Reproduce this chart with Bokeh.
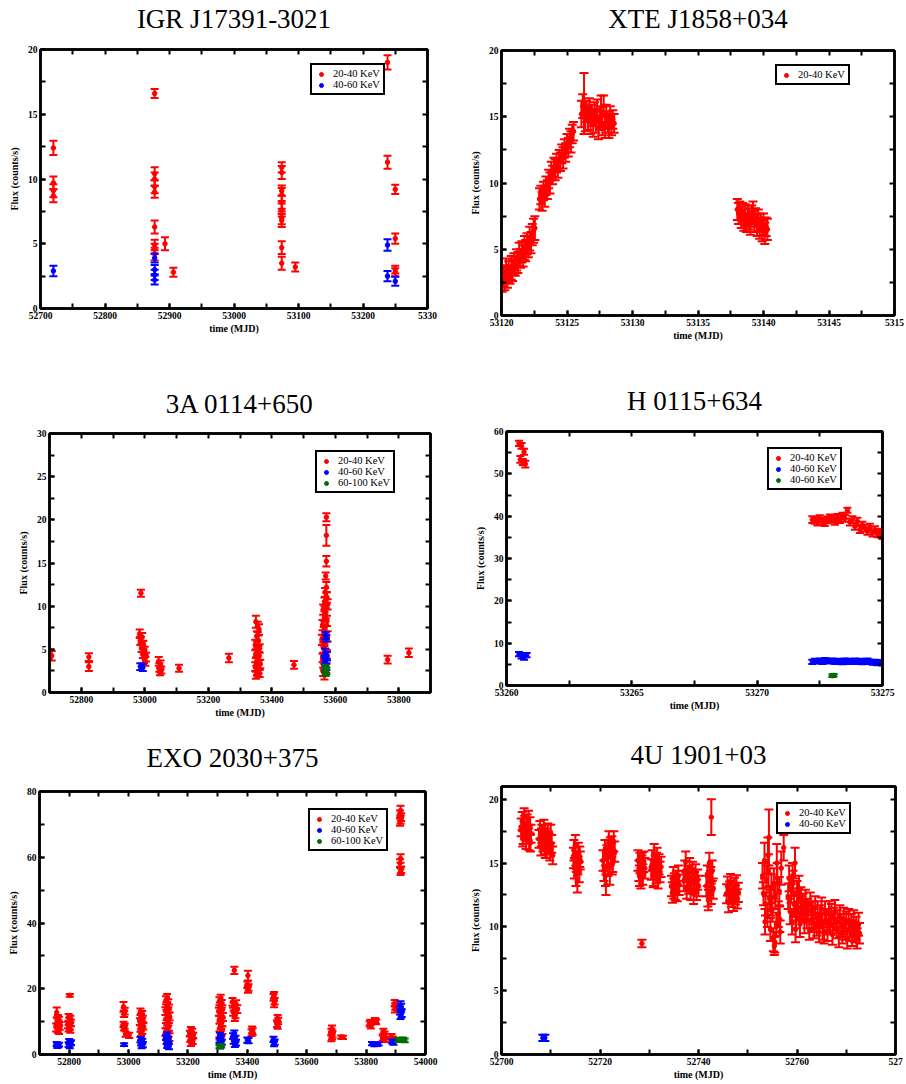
from bokeh.plotting import figure
from bokeh.models import (ColumnDataSource, LinearAxis, SingleIntervalTicker, FixedTicker,
                          Legend, LegendItem, Range1d, Spacer)
from bokeh.layouts import column, row
from bokeh.embed import file_html
from bokeh.resources import INLINE

RED = "#ff0000"
BLUE = "#0000ff"
GREEN = "#006e00"
SERIF = "Liberation Serif"

# ---------------- IGR J17391-3021 ----------------
igr_r_x = [52720, 52720, 52720, 52720,
           52877, 52877, 52877, 52877, 52877, 52877, 52877, 52877, 52877,
           52893, 52906,
           53074, 53074, 53074, 53074, 53074, 53074, 53074, 53074, 53074, 53074,
           53095, 53238, 53238, 53250, 53250, 53250, 53250]
igr_r_y = [12.4, 9.7, 9.1, 8.7,
           16.6, 10.4, 10.0, 9.4, 9.0, 6.3, 4.9, 4.6, 4.2,
           5.0, 2.8,
           10.9, 10.5, 9.1, 8.8, 8.2, 7.6, 7.0, 6.8, 4.7, 3.5,
           3.2, 19.0, 11.3, 9.2, 5.4, 3.0, 2.8]
igr_r_e = [0.55, 0.5, 0.5, 0.5,
           0.35, 0.5, 0.5, 0.5, 0.45, 0.5, 0.4, 0.4, 0.5,
           0.5, 0.35,
           0.4, 0.5, 0.4, 0.5, 0.5, 0.5, 0.5, 0.5, 0.5, 0.5,
           0.35, 0.55, 0.5, 0.35, 0.4, 0.3, 0.3]
igr_b_x = [52720, 52877, 52877, 52877, 52877, 53238, 53238, 53250]
igr_b_y = [2.9, 3.9, 3.0, 2.6, 2.2, 4.9, 2.5, 2.1]
igr_b_e = [0.4, 0.35, 0.35, 0.4, 0.35, 0.45, 0.4, 0.35]

# ---------------- XTE J1858+034 ----------------
xte_x = [53120.05, 53120.15, 53120.25, 53120.35, 53120.45, 53120.55, 53120.65, 53120.75, 53120.85, 53120.95,
         53121.05, 53121.15, 53121.25, 53121.35, 53121.45, 53121.55, 53121.65, 53121.75, 53121.85, 53121.95,
         53122.05, 53122.15, 53122.25, 53122.35, 53122.45, 53122.55,
         53122.9, 53123.0, 53123.1, 53123.2, 53123.3, 53123.4, 53123.5, 53123.6, 53123.7, 53123.8,
         53123.9, 53124.0, 53124.1, 53124.2, 53124.3, 53124.4, 53124.5, 53124.6, 53124.7, 53124.8,
         53124.9, 53125.0, 53125.1, 53125.2, 53125.3, 53125.4, 53125.5,
         53126.1, 53126.2, 53126.3, 53126.4, 53126.5, 53126.6, 53126.7, 53126.8, 53126.9, 53127.0,
         53127.1, 53127.2, 53127.3, 53127.4, 53127.5, 53127.6, 53127.7, 53127.8, 53127.9, 53128.0,
         53128.1, 53128.2, 53128.3, 53128.4, 53128.5, 53128.6,
         53138.0, 53138.1, 53138.2, 53138.3, 53138.4, 53138.5, 53138.6, 53138.7, 53138.8, 53138.9,
         53139.0, 53139.1, 53139.2, 53139.3, 53139.4, 53139.5, 53139.6, 53139.7, 53139.8, 53139.9,
         53140.0, 53140.1, 53140.2, 53140.3]
xte_y = [2.7, 3.0, 2.6, 3.4, 2.9, 3.3, 3.1, 3.6, 3.4, 3.9,
         3.7, 4.2, 4.0, 4.6, 4.3, 4.8, 4.5, 5.1, 4.9, 5.4,
         5.2, 5.8, 5.5, 6.1, 6.4, 6.6,
         8.8, 9.1, 8.6, 9.4, 9.0, 9.8, 9.5, 10.3, 10.0, 10.9,
         10.6, 11.2, 11.0, 11.5, 11.1, 11.8, 11.6, 12.2, 11.9, 12.6,
         12.3, 13.0, 12.7, 13.4, 13.1, 13.7, 13.9,
         15.2, 15.8, 16.0, 14.8, 15.4, 14.9, 15.6, 14.6, 15.1, 14.4,
         15.3, 14.7, 15.5, 14.2, 14.9, 15.4, 14.5, 15.8, 14.3, 15.0,
         14.6, 14.2, 15.1, 14.4, 14.8, 14.5,
         8.0, 7.7, 7.9, 7.4, 7.8, 7.2, 7.6, 7.0, 7.5, 7.3,
         6.9, 7.6, 7.8, 7.1, 7.4, 6.8, 7.2, 6.6, 7.0, 6.4,
         6.9, 6.2, 6.7, 6.5]
xte_e = [0.9, 0.8, 0.7, 0.9, 0.8, 0.8, 0.7, 0.9, 0.8, 0.8,
         0.7, 0.8, 0.8, 0.9, 0.7, 0.8, 0.8, 0.9, 0.8, 0.8,
         0.8, 0.9, 0.8, 0.8, 0.9, 0.9,
         0.8, 0.7, 0.7, 0.7, 0.8, 0.7, 0.7, 0.7, 0.8, 0.7,
         0.7, 0.7, 0.8, 0.7, 0.7, 0.7, 0.7, 0.7, 0.8, 0.7,
         0.7, 0.7, 0.7, 0.7, 0.8, 0.7, 0.7,
         1.0, 0.9, 2.3, 0.9, 0.8, 0.9, 0.8, 0.9, 0.8, 0.9,
         0.8, 0.9, 0.8, 0.9, 0.9, 1.2, 0.9, 0.8, 0.9, 0.9,
         0.8, 0.8, 0.7, 0.8, 0.7, 0.7,
         0.8, 0.8, 0.7, 0.8, 0.7, 0.8, 0.8, 0.7, 0.8, 0.8,
         0.8, 0.7, 0.8, 0.8, 0.7, 0.8, 0.8, 0.8, 0.7, 0.8,
         0.8, 0.8, 0.7, 0.8]

# ---------------- 3A 0114+650 ----------------
a3_r_x = [52707, 52824, 52824,
          52988, 52984, 52992, 52986, 52996, 52990, 53000, 52994, 53004, 52998, 53002,
          53044, 53050, 53046, 53052, 53048,
          53108, 53265,
          53350, 53356, 53360, 53353, 53358, 53348, 53362, 53354, 53350, 53360,
          53356, 53352, 53364, 53348, 53358, 53354, 53362, 53350,
          53470,
          53572, 53572, 53572, 53570, 53572, 53568, 53574, 53566, 53576, 53562,
          53570, 53566, 53574, 53560, 53568, 53564, 53576, 53558, 53570, 53562,
          53566, 53574, 53560, 53568, 53564, 53572, 53562, 53566,
          53765, 53832]
a3_r_y = [4.25, 4.1, 3.0,
          11.5, 6.8, 6.4, 6.0, 5.5, 5.2, 4.8, 4.5, 4.1, 3.9, 3.6,
          3.6, 3.2, 2.9, 2.6, 2.4,
          2.8, 4.0,
          8.2, 7.6, 7.3, 6.5, 6.0, 5.5, 5.1, 4.8, 4.5, 4.2,
          3.9, 3.6, 3.3, 3.0, 2.7, 2.4, 2.2, 2.0,
          3.2,
          20.3, 18.2, 15.2, 13.5, 12.2, 11.6, 11.0, 10.5, 10.2, 9.6,
          9.2, 8.8, 8.3, 7.8, 7.3, 7.0, 6.5, 6.1, 5.6, 5.2,
          4.8, 4.4, 4.0, 3.6, 3.2, 2.8, 2.4, 2.0,
          3.8, 4.6]
a3_r_e = [0.55, 0.45, 0.5,
          0.4, 0.5, 0.5, 0.5, 0.5, 0.5, 0.5, 0.5, 0.5, 0.5, 0.5,
          0.5, 0.5, 0.5, 0.4, 0.4,
          0.4, 0.5,
          0.7, 0.6, 0.6, 0.6, 0.6, 0.6, 0.5, 0.5, 0.5, 0.5,
          0.5, 0.5, 0.5, 0.5, 0.5, 0.4, 0.4, 0.4,
          0.45,
          0.45, 1.2, 0.6, 0.4, 0.6, 0.5, 0.6, 0.5, 0.6, 0.6,
          0.6, 0.6, 0.6, 0.6, 0.6, 0.6, 0.6, 0.6, 0.6, 0.6,
          0.6, 0.5, 0.5, 0.5, 0.5, 0.5, 0.5, 0.5,
          0.45, 0.5]
a3_b_x = [52986, 52994, 53570, 53572, 53568, 53574, 53566, 53570, 53572, 53568]
a3_b_y = [3.0, 2.9, 6.6, 6.3, 4.6, 4.2, 3.8, 3.4, 3.0, 2.8]
a3_b_e = [0.4, 0.4, 0.4, 0.4, 0.5, 0.5, 0.5, 0.5, 0.4, 0.4]
a3_g_x = [53568, 53572, 53570]
a3_g_y = [2.8, 2.5, 2.3]
a3_g_e = [0.4, 0.4, 0.4]

# ---------------- H 0115+634 ----------------
h_r_x = [53260.5, 53260.6, 53260.7, 53260.55, 53260.65, 53260.75,
         53272.2, 53272.3, 53272.4, 53272.5, 53272.6, 53272.7, 53272.8, 53272.9, 53273.0, 53273.1,
         53273.2, 53273.3, 53273.4, 53273.5, 53273.6, 53273.7, 53273.8, 53273.9, 53274.0, 53274.1,
         53274.2, 53274.3, 53274.4, 53274.5, 53274.6, 53274.7, 53274.8, 53274.9, 53275.0]
h_r_y = [57.2, 56.6, 55.2, 53.4, 52.8, 52.3,
         39.2, 39.0, 38.6, 39.4, 38.9, 38.5, 39.1, 39.6, 39.3, 38.8,
         39.7, 39.2, 40.0, 39.5, 41.4, 38.6, 39.2, 37.6, 38.8, 36.8,
         37.9, 37.2, 36.4, 37.4, 36.0, 36.8, 35.8, 36.2, 35.4]
h_r_e = [0.6, 0.7, 0.7, 0.8, 0.7, 0.8,
         0.8, 0.8, 0.8, 0.8, 0.8, 0.8, 0.8, 0.8, 0.8, 0.8,
         0.8, 0.8, 0.8, 0.8, 0.6, 0.8, 0.8, 0.8, 0.8, 0.8,
         0.8, 0.8, 0.8, 0.8, 0.8, 0.8, 0.8, 0.8, 0.8]
h_b_x = [53260.5, 53260.6, 53260.7, 53260.8,
         53272.2, 53272.3, 53272.4, 53272.5, 53272.6, 53272.7, 53272.8, 53272.9, 53273.0, 53273.1,
         53273.2, 53273.3, 53273.4, 53273.5, 53273.6, 53273.7, 53273.8, 53273.9, 53274.0, 53274.1,
         53274.2, 53274.3, 53274.4, 53274.5, 53274.6, 53274.7, 53274.8, 53274.9, 53275.0]
h_b_y = [7.4, 7.0, 6.6, 7.2,
         5.6, 5.8, 5.7, 5.9, 5.6, 6.0, 5.8, 5.7, 5.9, 5.6,
         5.8, 5.7, 5.5, 5.9, 5.8, 5.6, 5.7, 5.9, 5.6, 5.8,
         5.5, 5.7, 5.9, 5.6, 5.4, 5.6, 5.3, 5.5, 5.2]
h_b_e = [0.5, 0.6, 0.5, 0.5,
         0.5, 0.5, 0.5, 0.5, 0.5, 0.5, 0.5, 0.5, 0.5, 0.5,
         0.5, 0.5, 0.5, 0.5, 0.5, 0.5, 0.5, 0.5, 0.5, 0.5,
         0.5, 0.5, 0.5, 0.5, 0.5, 0.5, 0.5, 0.5, 0.5]
h_g_x = [53273.0, 53273.05]
h_g_y = [2.3, 2.4]
h_g_e = [0.3, 0.3]

# ---------------- EXO 2030+375 ----------------
exo_r_x = [52758, 52762, 52766, 52760, 52764, 52768, 52756, 52762, 52766,
           52802, 52798, 52804, 52800, 52806, 52796, 52802, 52798, 52804,
           52983, 52987, 52985, 52983, 52987, 52985, 52990, 53002,
           53040, 53046, 53042, 53048, 53038, 53044, 53050, 53040, 53046, 53042,
           53130, 53126, 53134, 53128, 53136, 53124, 53132, 53138, 53126, 53134,
           53128, 53136, 53130, 53124, 53132, 53138,
           53210, 53214, 53206, 53218, 53212, 53208, 53216, 53210,
           53310, 53306, 53314, 53308, 53316, 53304, 53312, 53318, 53306, 53314,
           53310, 53308, 53316, 53312, 53306,
           53356, 53350, 53362, 53354, 53366, 53352, 53360, 53358,
           53402, 53400, 53404, 53402,
           53416, 53418, 53414,
           53490, 53488, 53492, 53490,
           53502, 53504, 53500, 53502,
           53685, 53683, 53687, 53685, 53683,
           53716, 53722,
           53812, 53816, 53814,
           53830, 53834, 53832,
           53858, 53862, 53860, 53856, 53864,
           53886, 53890, 53888,
           53896, 53898, 53897,
           53916, 53914, 53918, 53916, 53914, 53916, 53914, 53918, 53916]
exo_r_y = [12.8, 10.8, 10.3, 9.8, 9.2, 8.7, 8.2, 7.8, 7.4,
           18.0, 11.3, 10.8, 10.2, 9.6, 9.0, 8.5, 8.0, 7.6,
           14.5, 13.2, 12.4, 9.2, 8.6, 8.1, 6.2, 5.8,
           13.0, 12.2, 11.5, 10.8, 10.0, 9.3, 8.6, 7.9, 7.2, 6.6,
           17.2, 16.5, 15.6, 14.8, 14.0, 13.2, 12.4, 11.6, 10.8, 10.0,
           9.2, 8.4, 7.6, 6.8, 6.0, 5.3,
           7.6, 7.0, 6.4, 5.8, 5.2, 4.6, 4.0, 3.4,
           17.0, 16.2, 15.4, 14.6, 13.8, 13.0, 12.2, 11.4, 10.6, 9.8,
           9.0, 8.2, 7.4, 6.6, 5.8,
           25.6, 16.0, 15.3, 14.6, 13.8, 13.0, 12.2, 11.4,
           24.0, 21.2, 20.4, 19.8,
           7.5, 7.0, 6.6,
           18.0, 17.4, 16.2, 15.4,
           11.0, 10.2, 9.4, 8.8,
           7.8, 6.8, 6.2, 5.6, 5.0,
           5.3, 5.2,
           9.3, 8.7, 9.8,
           10.4, 9.9, 10.1,
           7.0, 6.2, 5.6, 5.0, 4.6,
           5.4, 4.7, 4.2,
           15.6, 14.6, 13.8,
           74.2, 73.0, 72.2, 71.4, 70.8, 59.6, 58.2, 56.2, 55.6]
exo_r_e = [1.5, 1.2, 1.2, 1.2, 1.2, 1.2, 1.2, 1.2, 1.2,
           0.4, 1.0, 1.0, 1.0, 1.0, 1.0, 1.0, 1.0, 1.0,
           1.5, 1.0, 1.0, 0.8, 0.8, 0.8, 0.8, 0.8,
           1.0, 1.0, 1.0, 1.0, 1.0, 1.0, 1.0, 1.0, 1.0, 1.0,
           1.2, 1.2, 1.2, 1.2, 1.2, 1.2, 1.2, 1.2, 1.2, 1.2,
           1.2, 1.2, 1.2, 1.2, 1.2, 1.2,
           0.8, 0.8, 0.8, 0.8, 0.8, 0.8, 0.8, 0.8,
           1.2, 1.2, 1.2, 1.2, 1.2, 1.2, 1.2, 1.2, 1.2, 1.2,
           1.2, 1.2, 1.2, 1.2, 1.2,
           1.1, 1.2, 1.2, 1.2, 1.2, 1.2, 1.2, 1.2,
           1.5, 1.0, 1.0, 1.0,
           1.0, 1.0, 1.0,
           1.0, 1.0, 1.0, 1.0,
           1.0, 1.0, 1.0, 1.0,
           1.0, 1.0, 1.0, 1.0, 1.0,
           0.5, 0.5,
           0.8, 0.8, 0.8,
           0.7, 0.7, 0.7,
           0.8, 0.8, 0.8, 0.8, 0.8,
           0.8, 0.8, 0.8,
           1.0, 1.0, 1.0,
           1.5, 1.2, 1.2, 1.2, 1.2, 1.3, 1.2, 1.0, 1.0]
exo_b_x = [52758, 52762, 52766, 52760,
           52800, 52804, 52798, 52802, 52806,
           52985,
           53040, 53046, 53042, 53048, 53044,
           53130, 53126, 53134, 53128, 53132, 53130, 53136,
           53308, 53312, 53306, 53314, 53310, 53308,
           53356, 53352, 53360, 53354, 53362, 53358,
           53400, 53404,
           53488, 53492, 53490,
           53820, 53828, 53836, 53842,
           53888, 53892,
           53916, 53918, 53914, 53920, 53916]
exo_b_y = [3.2, 2.8, 3.0, 2.6,
           4.0, 3.4, 3.0, 2.6, 3.6,
           3.0,
           4.5, 4.0, 3.5, 3.0, 2.7,
           6.0, 5.2, 4.6, 4.0, 3.4, 2.8, 2.4,
           5.8, 5.0, 4.4, 3.8, 3.2, 2.6,
           6.4, 5.6, 4.8, 4.2, 3.6, 3.2,
           4.4, 4.2,
           4.6, 3.8, 3.3,
           3.3, 3.0, 3.1, 3.2,
           4.0, 3.6,
           15.0, 14.2, 13.4, 12.6, 12.0]
exo_b_e = [0.6, 0.6, 0.6, 0.6,
           0.7, 0.7, 0.7, 0.7, 0.7,
           0.4,
           0.8, 0.8, 0.8, 0.8, 0.8,
           0.8, 0.8, 0.8, 0.8, 0.8, 0.8, 0.8,
           0.8, 0.8, 0.8, 0.8, 0.8, 0.8,
           0.9, 0.9, 0.9, 0.9, 0.9, 0.9,
           0.8, 0.8,
           0.8, 0.8, 0.8,
           0.5, 0.5, 0.5, 0.5,
           0.6, 0.6,
           1.2, 1.2, 1.2, 1.2, 1.2]
exo_g_x = [53306, 53312, 53908, 53916, 53924, 53930]
exo_g_y = [2.4, 2.6, 4.5, 4.4, 4.6, 4.3]
exo_g_e = [0.5, 0.5, 0.6, 0.6, 0.6, 0.6]

# ---------------- 4U 1901+03 ----------------
u4_r_x = [52704.0, 52704.2, 52704.4, 52704.6, 52704.8, 52705.0, 52705.2, 52705.4, 52705.6, 52705.8, 52706.0, 52704.3, 52704.7, 52705.1, 52705.5, 52705.9,
          52707.6, 52707.8, 52708.0, 52708.2, 52708.4, 52708.6, 52708.8, 52709.0, 52709.2, 52709.4, 52709.6, 52709.8, 52710.0, 52710.2, 52710.4, 52708.1, 52708.9, 52709.5,
          52714.6, 52714.8, 52715.0, 52715.2, 52715.4, 52715.6, 52715.8, 52716.0, 52714.7, 52715.1, 52715.5, 52715.9,
          52720.6, 52720.8, 52721.0, 52721.2, 52721.4, 52721.6, 52721.8, 52722.0, 52722.2, 52722.4, 52722.6, 52722.8, 52723.0, 52721.1, 52721.5, 52722.1, 52722.5,
          52727.7, 52727.9, 52728.1, 52728.3, 52728.5, 52728.7, 52728.9, 52729.1, 52728.0, 52728.6,
          52728.5,
          52730.4, 52730.6, 52730.8, 52731.0, 52731.2, 52731.4, 52731.6, 52731.8, 52732.0, 52732.2, 52732.4, 52730.9, 52731.5,
          52734.5, 52734.7, 52734.9, 52735.1, 52735.3, 52735.5, 52735.7, 52735.9, 52736.1, 52735.0,
          52737.0, 52737.2, 52737.4, 52737.6, 52737.8, 52738.0, 52738.2, 52738.4, 52738.6, 52738.8, 52739.0, 52739.2, 52739.4, 52739.6, 52739.8, 52740.0,
          52741.6, 52741.8, 52742.0, 52742.2, 52742.4, 52742.6, 52742.8, 52743.0, 52741.9, 52742.5,
          52742.6,
          52745.7, 52745.9, 52746.1, 52746.3, 52746.5, 52746.7, 52746.9, 52747.1, 52747.3, 52747.5, 52747.7, 52747.9, 52748.1,
          52753.0, 52753.2, 52753.4, 52753.6, 52753.8, 52754.0, 52754.2, 52754.4, 52754.6, 52754.8, 52755.0, 52755.2, 52755.4, 52755.6,
          52755.8, 52756.0, 52756.2, 52756.4, 52756.6, 52756.8, 52753.5, 52754.1, 52754.7, 52755.3, 52755.5, 52755.9, 52756.5, 52754.3,
          52757.3,
          52758.2, 52758.4, 52758.6, 52758.8, 52759.0, 52759.2, 52759.4, 52759.6, 52759.8, 52760.0, 52760.2, 52760.4, 52760.6, 52760.8, 52761.0, 52759.1, 52759.7, 52760.3,
          52761.2, 52761.5, 52761.7, 52762.0, 52762.2, 52762.5, 52762.7, 52763.0, 52763.2, 52763.5,
          52763.7, 52764.0, 52764.2, 52764.5, 52764.7, 52765.0, 52765.2, 52765.5, 52765.7, 52766.0,
          52766.2, 52766.5, 52766.7, 52767.0, 52767.2, 52767.5, 52767.7, 52768.0, 52768.2, 52768.5,
          52768.7, 52769.0, 52769.2, 52769.5, 52769.7, 52770.0, 52770.2, 52770.5, 52770.7, 52771.0,
          52771.2, 52771.5, 52771.7, 52772.0, 52772.2, 52772.5, 52772.7]
u4_r_y = [17.8, 18.3, 17.2, 18.6, 17.6, 16.8, 18.1, 17.4, 16.7, 17.9, 17.3, 16.9, 18.0, 17.5, 18.4, 16.6,
          16.9, 17.6, 16.2, 17.3, 16.6, 17.8, 16.4, 17.0, 16.1, 17.4, 16.7, 15.9, 17.3, 16.5, 15.6, 17.0, 16.0, 16.8,
          15.4, 14.6, 16.4, 15.0, 13.6, 15.8, 14.3, 15.2, 16.0, 14.0, 14.8, 15.5,
          15.2, 14.4, 16.0, 13.3, 15.6, 14.8, 16.6, 14.1, 15.8, 16.3, 15.1, 16.7, 15.9, 14.0, 15.4, 16.2, 14.9,
          15.2, 14.4, 15.0, 13.8, 14.8, 14.1, 15.1, 14.6, 14.0, 15.0,
          8.7,
          14.5, 15.2, 13.9, 15.7, 14.8, 14.2, 15.4, 13.8, 14.9, 14.3, 14.7, 14.0, 15.0,
          13.2, 12.7, 13.9, 13.4, 12.9, 13.6, 12.8, 14.0, 13.3, 13.0,
          13.6, 14.4, 15.1, 13.0, 14.0, 13.4, 14.6, 12.9, 13.8, 14.3, 12.6, 13.5, 14.1, 12.9, 13.7, 13.2,
          13.2, 14.0, 12.1, 15.0, 13.6, 12.6, 14.4, 13.0, 12.4, 13.9,
          18.6,
          12.6, 13.2, 11.9, 12.8, 13.4, 12.3, 12.9, 12.0, 13.1, 12.5, 13.3, 12.2, 12.7,
          14.0, 12.6, 15.2, 11.8, 13.6, 10.9, 14.4, 12.2, 9.8, 13.0, 11.4, 9.0, 8.5, 12.4,
          10.2, 13.8, 11.0, 12.8, 9.6, 14.6, 10.4, 15.6, 11.9, 13.4, 8.8, 15.0, 10.6, 17.0,
          16.2,
          12.4, 13.8, 11.2, 12.9, 10.4, 13.4, 11.8, 15.0, 10.9, 12.6, 11.5, 13.0, 10.2, 12.1, 11.4, 14.0, 9.8, 12.0,
          11.6, 10.4, 12.0, 10.9, 11.3, 9.8, 11.8, 10.6, 11.1, 9.9,
          11.5, 10.2, 11.0, 9.6, 10.8, 11.4, 10.0, 9.5, 11.1, 10.5,
          9.7, 11.0, 10.3, 10.9, 9.4, 10.6, 11.2, 9.9, 10.4, 9.2,
          10.8, 10.1, 9.5, 10.6, 9.8, 10.3, 9.1, 10.5, 9.7, 10.1,
          9.3, 10.4, 9.6, 9.9, 9.1, 10.2, 9.5]
u4_r_e = [0.7, 0.7, 0.7, 0.7, 0.6, 0.7, 0.7, 0.6, 0.7, 0.7, 0.7, 0.6, 0.7, 0.7, 0.7, 0.7,
          0.7, 0.7, 0.6, 0.7, 0.7, 0.6, 0.7, 0.7, 0.7, 0.7, 0.6, 0.7, 0.7, 0.7, 0.7, 0.7, 0.6, 0.7,
          0.8, 0.8, 0.8, 0.7, 0.9, 0.8, 0.8, 0.7, 0.8, 0.8, 0.7, 0.8,
          0.8, 0.8, 0.8, 0.8, 0.8, 0.8, 0.9, 0.8, 0.8, 0.8, 0.8, 0.8, 0.8, 0.8, 0.8, 0.8, 0.8,
          0.8, 0.8, 0.8, 0.8, 0.8, 0.8, 0.8, 0.8, 0.8, 0.8,
          0.3,
          0.8, 0.8, 0.8, 0.8, 0.8, 0.8, 0.8, 0.8, 0.8, 0.8, 0.8, 0.8, 0.8,
          0.8, 0.8, 0.8, 0.8, 0.8, 0.8, 0.8, 0.8, 0.8, 0.8,
          0.8, 0.8, 0.8, 0.8, 0.8, 0.8, 0.8, 0.8, 0.8, 0.8, 0.8, 0.8, 0.8, 0.8, 0.8, 0.8,
          0.8, 0.8, 0.8, 0.8, 0.8, 0.8, 0.8, 0.8, 0.8, 0.8,
          1.4,
          0.75, 0.75, 0.75, 0.75, 0.75, 0.75, 0.75, 0.75, 0.75, 0.75, 0.75, 0.75, 0.75,
          1.0, 0.9, 1.4, 0.9, 1.2, 0.9, 1.3, 1.0, 0.9, 1.1, 1.0, 0.9, 0.7, 1.0,
          0.9, 1.2, 1.0, 1.1, 0.9, 1.3, 1.0, 1.4, 1.0, 1.2, 0.8, 1.5, 1.0, 2.2,
          1.0,
          1.0, 1.0, 1.0, 1.0, 1.0, 1.0, 1.0, 1.2, 1.0, 1.0, 1.0, 1.0, 1.0, 1.0, 1.0, 1.0, 1.0, 1.0,
          1.0, 0.9, 0.9, 1.0, 0.9, 0.8, 0.9, 1.0, 0.9, 0.8,
          0.9, 0.9, 1.0, 0.8, 0.9, 0.9, 1.0, 0.8, 0.9, 0.9,
          0.8, 1.0, 0.9, 0.9, 0.8, 0.9, 0.9, 0.8, 0.9, 0.8,
          0.9, 0.9, 0.8, 0.9, 0.8, 0.9, 0.8, 0.9, 0.8, 0.9,
          0.8, 0.9, 0.8, 0.9, 0.8, 0.9, 0.8]
u4_b_x = [52708.4, 52708.8]
u4_b_y = [1.3, 1.3]
u4_b_e = [0.25, 0.25]

LBL_20_40 = "20-40 KeV"
LBL_40_60 = "40-60 KeV"
LBL_60_100 = "60-100 KeV"


def draw_series(p, xs, ys, es, color, cap):
    rows = list(zip(xs, ys, es))
    src = ColumnDataSource(dict(
        x=[r[0] for r in rows], y=[r[1] for r in rows],
        lo=[r[1] - r[2] for r in rows], hi=[r[1] + r[2] for r in rows]))
    p.segment(x0="x", y0="lo", x1="x", y1="hi", source=src,
              line_color=color, line_width=2)
    p.scatter(x="x", y="lo", source=src, marker="dash", size=cap,
              line_color=color, line_width=2)
    p.scatter(x="x", y="hi", source=src, marker="dash", size=cap,
              line_color=color, line_width=2)
    return p.scatter(x="x", y="y", source=src, marker="circle", size=4.5,
                     fill_color=color, line_color=color)


def tick_positions(lo, hi, step):
    n = int(round((hi - lo) / step))
    return [lo + i * step for i in range(n + 1)]


def style_axis(ax):
    ax.axis_line_color = "black"
    ax.axis_line_width = 2.5
    ax.major_tick_in = 5
    ax.major_tick_out = 0
    ax.minor_tick_in = 5
    ax.minor_tick_out = 0
    ax.major_tick_line_width = 2
    ax.minor_tick_line_width = 2
    ax.major_tick_line_color = "black"
    ax.minor_tick_line_color = "black"
    ax.major_label_text_font = SERIF
    ax.major_label_text_font_style = "bold"
    ax.major_label_text_font_size = "9.5px"
    ax.major_label_text_color = "black"
    ax.major_label_standoff = 3
    ax.axis_label_text_font = SERIF
    ax.axis_label_text_font_style = "bold"
    ax.axis_label_text_font_size = "10px"
    ax.axis_label_text_color = "black"


def make_panel(title, xr, yr, xint, yint, size, borders, series, leg_xy,
               overrides=None, cap=8, title_gap=16):
    w, h = size
    bl, br, bt, bb = borders
    p = figure(width=w, height=h, x_range=Range1d(*xr), y_range=Range1d(*yr),
               output_backend="svg", toolbar_location=None, frame_align=False,
               min_border_left=bl, min_border_right=br,
               min_border_top=bt, min_border_bottom=bb,
               x_axis_label="time (MJD)", y_axis_label="Flux (counts/s)")
    bx = p.below[0]
    ly = p.left[0]
    bx.ticker = SingleIntervalTicker(interval=xint, num_minor_ticks=2)
    ly.ticker = SingleIntervalTicker(interval=yint, num_minor_ticks=2)
    if overrides:
        bx.major_label_overrides = overrides
    # top axis: inner ticks only, with the panel title as its label
    top = LinearAxis(ticker=FixedTicker(ticks=[], minor_ticks=tick_positions(xr[0], xr[1], xint / 2)),
                     axis_label=title)
    right = LinearAxis(ticker=FixedTicker(ticks=[], minor_ticks=tick_positions(yr[0], yr[1], yint / 2)))
    p.add_layout(top, "above")
    p.add_layout(right, "right")
    for ax in (bx, ly, top, right):
        style_axis(ax)
    for ax in (top, right):
        ax.major_label_standoff = 0
        ax.axis_label_standoff = 0
    top.axis_label_text_font = SERIF
    top.axis_label_text_font_size = "27px"
    top.axis_label_text_font_style = "normal"
    top.axis_label_text_color = "black"
    top.axis_label_standoff = title_gap
    bx.axis_label_standoff = 1
    ly.axis_label_standoff = 5
    p.xgrid.visible = False
    p.ygrid.visible = False
    p.outline_line_color = "black"
    p.outline_line_width = 2.5
    p.outline_line_alpha = 1.0

    items = []
    for (label, color, xs, ys, es) in series:
        r = draw_series(p, xs, ys, es, color, cap)
        items.append(LegendItem(label=label, renderers=[r]))
    leg = Legend(items=items, location=leg_xy,
                 border_line_color="black", border_line_width=2, border_line_alpha=1,
                 background_fill_color="white", background_fill_alpha=1,
                 padding=3, spacing=0, margin=0,
                 label_text_font=SERIF, label_text_font_size="10.5px",
                 label_text_color="black",
                 glyph_width=12, glyph_height=10, label_height=10, label_standoff=6)
    p.add_layout(leg)
    return p


p1 = make_panel("IGR J17391-3021", (52700, 53300), (0, 20), 100, 5,
                (440, 365), (40, 13, 47, 57),
                [(LBL_20_40, RED, igr_r_x, igr_r_y, igr_r_e),
                 (LBL_40_60, BLUE, igr_b_x, igr_b_y, igr_b_e)],
                (270, 213), overrides={53300: "5330"}, title_gap=16)
p2 = make_panel("XTE J1858+034", (53120, 53150), (0, 20), 5, 5,
                (452, 365), (48, 11, 48, 50),
                [(LBL_20_40, RED, xte_x, xte_y, xte_e)],
                (274, 230), overrides={53150: "5315"}, cap=9, title_gap=17)
p3 = make_panel("3A 0114+650", (52700, 53900), (0, 30), 200, 5,
                (453, 360), (49, 23, 68, 33),
                [(LBL_20_40, RED, a3_r_x, a3_r_y, a3_r_e),
                 (LBL_40_60, BLUE, a3_b_x, a3_b_y, a3_b_e),
                 (LBL_60_100, GREEN, a3_g_x, a3_g_y, a3_g_e)],
                (266, 199), title_gap=15)
p4 = make_panel("H 0115+634", (53260, 53275), (0, 60), 5, 10,
                (452, 360), (53, 23, 66, 40),
                [(LBL_20_40, RED, h_r_x, h_r_y, h_r_e),
                 (LBL_40_60, BLUE, h_b_x, h_b_y, h_b_e),
                 (LBL_40_60, GREEN, h_g_x, h_g_y, h_g_e)],
                (261, 195), title_gap=16)
p5 = make_panel("EXO 2030+375", (52700, 54000), (0, 80), 200, 20,
                (453, 357), (39, 28, 66, 28),
                [(LBL_20_40, RED, exo_r_x, exo_r_y, exo_r_e),
                 (LBL_40_60, BLUE, exo_b_x, exo_b_y, exo_b_e),
                 (LBL_60_100, GREEN, exo_g_x, exo_g_y, exo_g_e)],
                (269, 203), title_gap=19)
p6 = make_panel("4U 1901+03", (52700, 52780), (0, 21), 20, 5,
                (452, 357), (48, 10, 61, 28),
                [(LBL_20_40, RED, u4_r_x, u4_r_y, u4_r_e),
                 (LBL_40_60, BLUE, u4_b_x, u4_b_y, u4_b_e)],
                (275, 220), overrides={52780: "527"}, cap=9, title_gap=17)

layout = column(row(p1, Spacer(width=13, height=365), p2), row(p3, p4), row(p5, p6))
open("out.html", "w").write(file_html(layout, INLINE))
